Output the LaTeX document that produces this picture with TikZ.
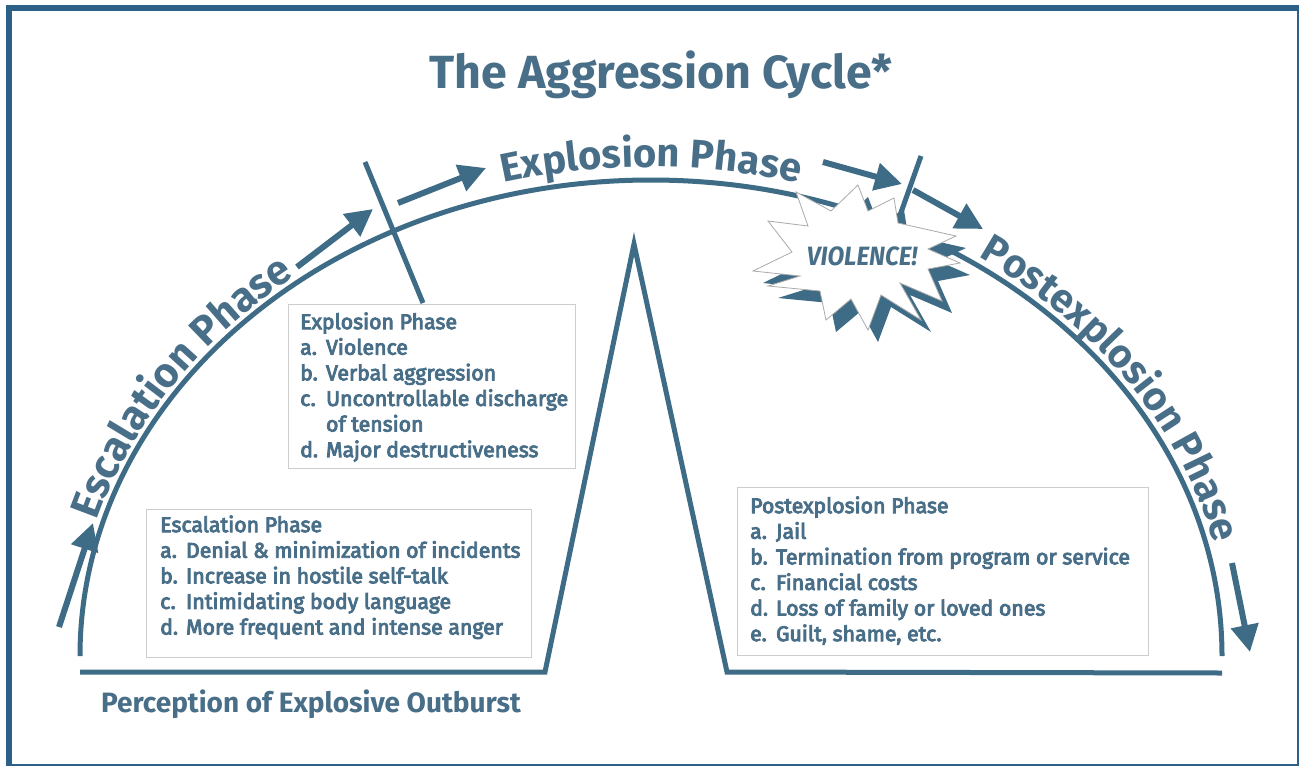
\documentclass[tikz,border=0pt]{standalone}
\usepackage{fontspec}
\setmainfont{Fira Sans}
\newfontfamily\medfont{Fira Sans}[FakeBold=4]
\usetikzlibrary{arrows.meta,decorations.text}
\definecolor{cblue}{RGB}{62,108,134}
\definecolor{cframe}{RGB}{44,96,134}
\definecolor{ctext}{RGB}{72,110,136}
\definecolor{cbox}{RGB}{205,205,205}
\definecolor{cstar}{RGB}{170,170,170}
\begin{document}
\begin{tikzpicture}[x=1pt,y=-1pt,
  mainline/.style={draw=cblue, line width=5pt},
  arr/.style={draw=cblue, line width=6pt, -{Triangle[length=27pt,width=27pt]}},
  tickline/.style={draw=cblue, line width=5pt},
  box/.style={draw=cbox, line width=1.2pt, fill=white, rectangle, inner sep=0pt, anchor=north west},
  boxtext/.style={text=ctext, anchor=north west, inner sep=0pt, font=\medfont\fontsize{21.3}{25.6}\selectfont},
  arctext/.style 2 args={decorate, decoration={text along path, text align=center, text={|\fontsize{#1}{#1}\selectfont\bfseries\color{ctext}|#2}}},
]
\useasboundingbox (0,0) rectangle (1299,766);
% frame
\fill[cframe] (6,5) rectangle (1299,766);
\fill[white] (12,11) rectangle (1297,764);

% title
\node[text=ctext, font=\fontsize{46.5}{46.5}\selectfont\bfseries] (title) at (661,75) {The Aggression Cycle*};

% main arc and baseline
\draw[mainline] (80,656) arc[start angle=180, end angle=360, x radius=571, y radius=476];
\draw[mainline, line join=miter] (80,672) -- (545,672) -- (634,244) -- (727,672) -- (1222,673);

% ticks
\coordinate (t1a) at (365,162); \coordinate (t1b) at (423,303);
\draw[tickline] (t1a) -- (t1b);
\coordinate (t2a) at (921,156); \coordinate (t2b) at (893,235);
\draw[tickline] (t2a) -- (t2b);

% arrows
\coordinate (a1s) at (59,627); \coordinate (a1e) at (93,523);
\coordinate (a2s) at (297,267); \coordinate (a2e) at (373,209);
\coordinate (a3s) at (398,203); \coordinate (a3e) at (486,168);
\coordinate (a4s) at (823,162); \coordinate (a4e) at (902,184);
\coordinate (a5s) at (913,190); \coordinate (a5e) at (983,229);
\coordinate (a6s) at (1232,563); \coordinate (a6e) at (1250,652);
\draw[arr] (a1s) -- (a1e);
\draw[arr] (a2s) -- (a2e);
\draw[arr] (a3s) -- (a3e);
\draw[arr] (a4s) -- (a4e);
\draw[arr] (a5s) -- (a5e);
\draw[arr] (a6s) -- (a6e);

% starburst
\def\starpath{(753,271) -- (792,252) -- (768,221) -- (808,226) -- (796,192) -- (831,211) -- (858,185) -- (868,211) -- (894,198) -- (898,223) -- (956,236) -- (928,249) -- (960,263) -- (928,269) -- (942,301) -- (900,283) -- (921,320) -- (881,295) -- (868,330) -- (851,299) -- (826,320) -- (820,291) -- (768,286) -- (800,276) -- cycle}
\fill[cblue, shift={(10,12)}] \starpath;
\filldraw[fill=white, draw=cstar, line width=0.8pt] \starpath;
\node[text=ctext, font=\fontsize{23}{23}\selectfont\bfseries\itshape, xscale=1.06, yscale=1.15] (viol) at (862,256) {VIOLENCE!};

% phase labels along the arc
\path[arctext={41.5}{Escalation Phase}] (651,656) ++(183.3:577 and 482) arc[start angle=183.3, end angle=243.3, x radius=577, y radius=482];
\path[arctext={40}{Explosion Phase}] (651,656) ++(240:584 and 489) arc[start angle=240, end angle=300, x radius=584, y radius=489];
\path[arctext={40}{Postexplosion Phase}] (651,656) ++(291.5:579 and 484) arc[start angle=291.5, end angle=361.5, x radius=579, y radius=484];

% boxes
\node[box, minimum width=287, minimum height=164] (expbox) at (288,304) {};
\node[boxtext] (exptext) at (300,311) {\begin{tabular}{@{}l@{\hspace{8pt}}l@{}}\multicolumn{2}{@{}l@{}}{Explosion Phase}\\
a. & Violence\\ b. & Verbal aggression\\ c. & Uncontrollable discharge\\ & of tension\\ d. & Major destructiveness\end{tabular}};

\node[box, minimum width=385, minimum height=148] (escbox) at (146,509) {};
\node[boxtext] (esctext) at (160,514) {\begin{tabular}{@{}l@{\hspace{8pt}}l@{}}\multicolumn{2}{@{}l@{}}{Escalation Phase}\\
a. & Denial \& minimization of incidents\\ b. & Increase in hostile self-talk\\ c. & Intimidating body language\\ d. & More frequent and intense anger\end{tabular}};

\node[box, minimum width=411, minimum height=168] (postbox) at (737,487) {};
\node[boxtext] (posttext) at (750,495) {\begin{tabular}{@{}l@{\hspace{8pt}}l@{}}\multicolumn{2}{@{}l@{}}{Postexplosion Phase}\\
a. & Jail\\ b. & Termination from program or service\\ c. & Financial costs\\ d. & Loss of family or loved ones\\ e. & Guilt, shame, etc.\end{tabular}};

% bottom label
\node[text=ctext, font=\fontsize{28}{28}\selectfont\bfseries] (perc) at (311,704) {Perception of Explosive Outburst};
\end{tikzpicture}
\end{document}
